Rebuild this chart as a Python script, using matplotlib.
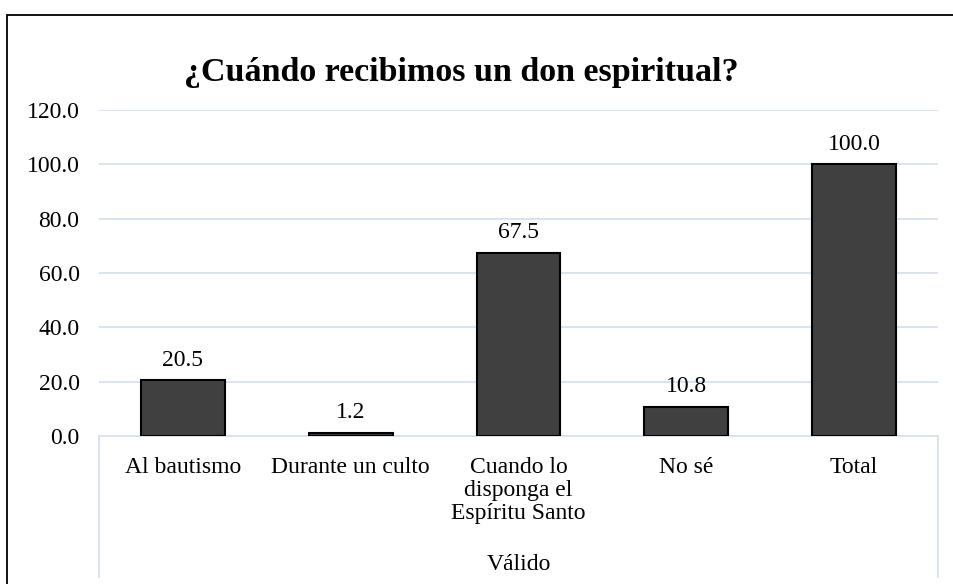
import matplotlib
matplotlib.use("Agg")
import matplotlib.pyplot as plt
from matplotlib.patches import Rectangle

plt.rcParams['font.family'] = ['Liberation Serif', 'DejaVu Serif']

TITLE = "¿Cuándo recibimos un don espiritual?"
CATEGORIES = ["Al bautismo", "Durante un culto", "Cuando lo\ndisponga el\nEspíritu Santo",
              "No sé", "Total"]
VALUES = [20.5, 1.2, 67.5, 10.8, 100.0]
GROUP = "Válido"
YTICKS = [0, 20, 40, 60, 80, 100, 120]

W, H = 954, 584
FS = 17
fig = plt.figure(figsize=(W / 100, H / 100), dpi=100)

# outer chart frame (cropped on right and bottom)
fig.patches.append(Rectangle((7 / W, -0.1), 1.2, (H - 15) / H + 0.1,
                             transform=fig.transFigure, fill=False,
                             edgecolor='black', linewidth=1.3))

left, right, top, bottom = 99, 938, 110, 436
ax = fig.add_axes([left / W, (H - bottom) / H, (right - left) / W, (bottom - top) / H])

x = list(range(len(CATEGORIES)))
ax.bar(x, VALUES, width=0.5, color='#404040', edgecolor='black', linewidth=1.5, zorder=3)
for xi, v in zip(x, VALUES):
    ax.annotate(f"{v:.1f}", (xi, v), xytext=(0, 7), textcoords='offset points',
                ha='center', va='bottom', fontsize=FS)

ax.set_xlim(-0.5, len(CATEGORIES) - 0.5)
ax.set_ylim(0, 120)
ax.set_yticks(YTICKS)
ax.set_yticklabels([f"{t:.1f}" for t in YTICKS], fontsize=FS)
ax.set_xticks(x)
ax.set_xticklabels(CATEGORIES, fontsize=FS, linespacing=1.12, va='top')
ax.tick_params(length=0, pad=14)
ax.tick_params(axis='x', pad=15)
ax.grid(axis='y', color='#d6e2f2', linewidth=1.3, zorder=0)
for s in ['top', 'right', 'left']:
    ax.spines[s].set_visible(False)
ax.spines['bottom'].set_color('#d6e2f2')
ax.spines['bottom'].set_linewidth(1.3)

# group separators and label
depth = (577 - bottom) / (bottom - top)
for xe in (0, 1):
    ax.plot([xe, xe], [0, -depth], transform=ax.transAxes, clip_on=False,
            color='#d6e2f2', linewidth=1.3)
ax.text(0.5, -(564 - bottom) / (bottom - top), GROUP, transform=ax.transAxes,
        ha='center', va='center', fontsize=FS)

fig.text(461 / W, (H - 72) / H, TITLE, ha='center', va='center', fontsize=24.5,
         fontweight='bold')

fig.savefig("out.png", dpi=100)
